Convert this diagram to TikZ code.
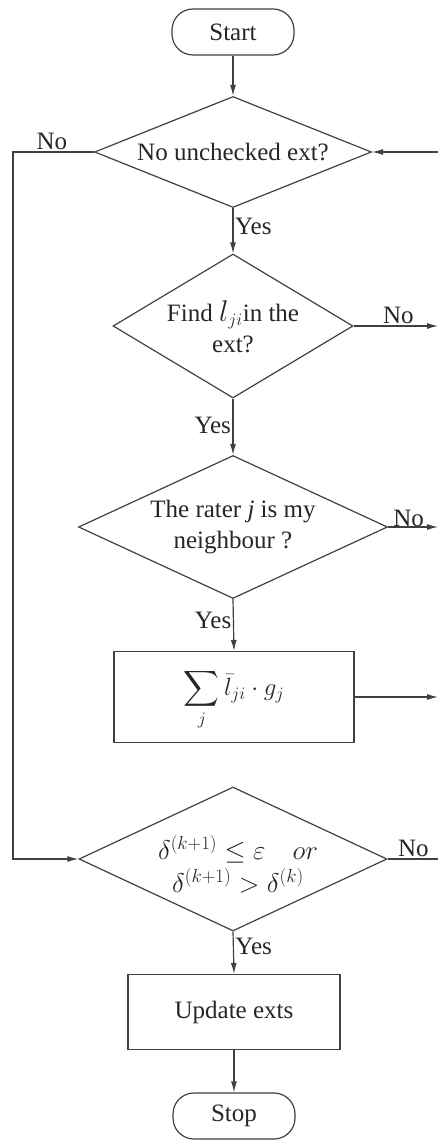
\documentclass[tikz,border=0pt]{standalone}
\usepackage{fix-cm}
\usepackage{amsmath}
\usepackage{fontspec}
\setmainfont{Liberation Serif}
\usetikzlibrary{shapes.geometric,arrows.meta}
\definecolor{linec}{HTML}{404040}
\definecolor{textc}{HTML}{262626}
\begin{document}
\begin{tikzpicture}[x=1pt,y=-1pt,
  every node/.style={font=\fontsize{25}{31}\selectfont, text=textc},
  line/.style={draw=linec, line width=1.2pt},
  arr/.style={line, -{Latex[length=11pt,width=6pt]}},
  dia/.style={diamond, line, inner sep=0pt},
  term/.style={rectangle, line, rounded corners=21pt, inner sep=0pt, minimum width=122pt, minimum height=46pt},
  procbox/.style={rectangle, line, inner sep=0pt},
  lbl/.style={inner sep=1.5pt}
]
\useasboundingbox (0,0) rectangle (438,1142);

\node[term] (start) at (233,32) {Start};
\node[dia, minimum width=277pt, minimum height=111pt] (d1) at (233,152) {};
\node[align=center] (d1t) at (d1) {No unchecked ext?};
\node[dia, minimum width=240pt, minimum height=144pt] (d2) at (233,326) {};
\node[align=center] (d2t) at (233,327) {Find {\fontsize{30}{31}\selectfont$l$}$_{ji}$in the\\ext?};
\node[dia, minimum width=309pt, minimum height=143pt] (d3) at (233,527) {};
\node[align=center] (d3t) at (233,527) {The rater \textit{j} is my\\neighbour ?};
\node[procbox, minimum width=240pt, minimum height=91pt] (sum) at (234,697) {};
\node (sumt) at (234,700) {$\displaystyle\sum_j \bar{l}_{ji}\cdot g_j$};
\node[dia, minimum width=308pt, minimum height=144pt] (d4) at (233,859) {};
\node[align=center, font=\fontsize{27}{33}\selectfont] (d4t) at (238,864) {$\delta^{(k+1)}\le\varepsilon\quad or$\\[0pt]$\delta^{(k+1)}>\delta^{(k)}$};
\node[procbox, minimum width=212pt, minimum height=75pt] (upd) at (234,1012) {Update exts};
\node[term] (stop) at (234,1116) {Stop};

\coordinate (lft) at (13,152);
\coordinate (r1) at (438,152);
\coordinate (r2) at (438,326);
\coordinate (r3) at (438,527);
\coordinate (r4) at (438,697);
\coordinate (r5) at (438,859);

\draw[arr] (start) -- (d1);
\draw[arr] (d1.south) -- node[lbl, pos=0.4, anchor=west] {Yes} (d2.north);
\draw[arr] (d2.south) -- node[lbl, pos=0.47, anchor=east] {Yes} (d3.north);
\draw[arr] (d3.south) -- node[lbl, pos=0.42, anchor=east] {Yes} (sum.north);
\draw[arr] (d4.south) -- node[lbl, pos=0.36, anchor=west] {Yes} (upd.north);
\draw[arr] (upd) -- (stop);

\draw[arr] (r1) -- (d1.east);
\draw[arr] (d2.east) -- node[lbl, pos=0.53, anchor=south] {No} (r2);
\draw[arr] (d3.east) -- node[lbl, pos=0.41, anchor=south, inner sep=0pt] {No} (r3);
\draw[arr] (sum.east) -- (r4);
\draw[line] (d4.east) -- node[lbl, pos=0.51, anchor=south] {No} (r5);
\draw[arr] (d1.west) -- node[lbl, pos=0.52, anchor=south] {No} (lft) |- (d4.west);
\end{tikzpicture}
\end{document}
